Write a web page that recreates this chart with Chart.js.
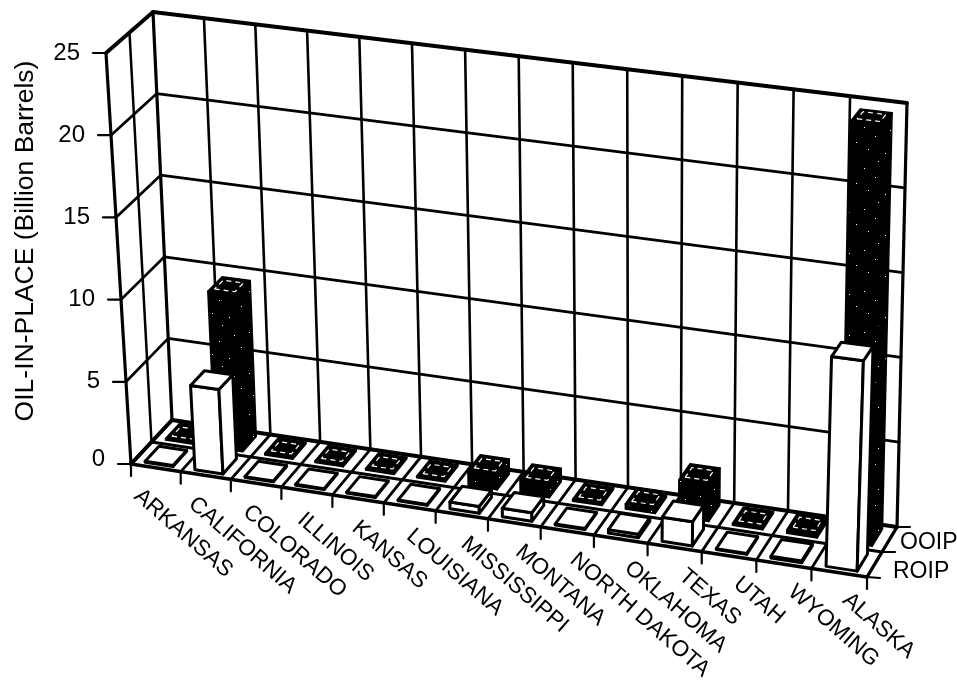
<!DOCTYPE html>
<html><head><meta charset="utf-8">
<style>html,body{margin:0;padding:0;background:#fff}canvas{display:block}</style>
<script src="https://cdn.jsdelivr.net/npm/chart.js@4"></script>
</head><body><canvas id="c" width="957" height="697"></canvas>
<script>
const categories=["ARKANSAS","CALIFORNIA","COLORADO","ILLINOIS","KANSAS","LOUISIANA","MISSISSIPPI","MONTANA","NORTH DAKOTA","OKLAHOMA","TEXAS","UTAH","WYOMING","ALASKA"];
const roip=[0.05,5.1,0.05,0.05,0.05,0.05,0.4,0.5,0.05,0.2,1.4,0.05,0.1,12];
const ooip=[0.1,9.5,0.1,0.1,0.1,0.1,0.9,0.8,0.1,0.3,2.2,0.1,0.2,24.5];
const seriesNames=["ROIP","OOIP"];
const yTitle="OIL-IN-PLACE (Billion Barrels)";
const FONT='"Liberation Sans", Arial, sans-serif';

const C={fl0:[131,464],fr0:[867,577],bl0:[172,420],br0:[897,527],
         fl1:[106,53],fr1:[881,137],bl1:[153,12],br1:[907,103]};
const warp=u=>{const r=1.03;return (u/(r-2*(r-1)*u))*(r-2*(r-1));};
const lerp=(a,b,t)=>[a[0]+(b[0]-a[0])*t,a[1]+(b[1]-a[1])*t];
function P(u,d,v){
  u=warp(u);
  const f0=lerp(C.fl0,C.fr0,u),b0=lerp(C.bl0,C.br0,u),f1=lerp(C.fl1,C.fr1,u),b1=lerp(C.bl1,C.br1,u);
  return lerp(lerp(f0,b0,d),lerp(f1,b1,d),v);
}
function line(ctx,a,b,w){ctx.lineWidth=w;ctx.beginPath();ctx.moveTo(a[0],a[1]);ctx.lineTo(b[0],b[1]);ctx.stroke();}
function poly(ctx,pts,fill,w){ctx.beginPath();pts.forEach((p,i)=>i?ctx.lineTo(p[0],p[1]):ctx.moveTo(p[0],p[1]));ctx.closePath();ctx.fillStyle=fill;ctx.fill();ctx.lineWidth=w;ctx.strokeStyle='#000';ctx.stroke();}
function speckle(ctx){
  const c=document.createElement('canvas');c.width=c.height=41;const x=c.getContext('2d');
  x.fillStyle='#000';x.fillRect(0,0,41,41);x.fillStyle='#fff';
  [[3,4],[29,7],[14,13],[36,19],[7,26],[24,30],[17,38]].forEach(p=>x.fillRect(p[0],p[1],1,1));
  return ctx.createPattern(c,'repeat');
}
const scene={id:'scene',
 beforeDatasetsDraw(chart){
  const ctx=chart.ctx,yS=chart.scales.y,xS=chart.scales.x,a=chart.chartArea;
  const V=val=>(a.bottom-yS.getPixelForValue(val))/a.height;
  const n=categories.length;
  ctx.save();ctx.strokeStyle='#000';ctx.lineCap='round';ctx.lineJoin='round';
  yS.ticks.forEach(t=>{const v=V(t.value);
    const w=t.value===0||t.value===25?3.8:2.7;
    line(ctx,P(0,0,v),P(0,1,v),w);
    line(ctx,P(0,1,v),P(1,1,v),w);
    line(ctx,P(0,0,v),[P(0,0,v)[0]-13,P(0,0,v)[1]],2.2);
  });
  for(let i=0;i<=n;i++){const u=(xS.getPixelForValue(i)-xS.width/n/2-a.left)/a.width;
    line(ctx,P(u,0,0),P(u,1,0),i===0||i===n?3.4:2.8);
    line(ctx,P(u,1,0),P(u,1,1),i===0||i===n?3.2:2.6);
    const q=P(u,0,0);line(ctx,q,[q[0],q[1]+12],2.2);
  }
  line(ctx,P(0,.5,0),P(1,.5,0),2.8);
  line(ctx,P(0,.5,0),P(0,.5,1),2.5);
  line(ctx,P(0,0,0),P(0,0,1),3.2);
  line(ctx,P(0,0,0),P(1,0,0),3.6);
  [0,.5,1].forEach(d=>{const q=P(1,d,0);line(ctx,q,[q[0]+13,q[1]+(d===0?1:0)],2.2);});
  ctx.fillStyle='#000';ctx.font='24px '+FONT;ctx.textBaseline='middle';ctx.textAlign='right';
  yS.ticks.forEach(t=>{const q=P(0,0,V(t.value));ctx.fillText(String(t.value),q[0]-26,q[1]-(t.value===0?5:0));});
  ctx.textAlign='left';ctx.font='23px '+FONT;
  ctx.fillText(seriesNames[1],900,543);ctx.fillText(seriesNames[0],893,572);
  ctx.font='22.5px '+FONT;
  categories.forEach((c,i)=>{ctx.save();ctx.translate(137+54.5*i,493+8*i);ctx.rotate(41*Math.PI/180);ctx.fillText(c,0,0);ctx.restore();});
  ctx.save();ctx.translate(26,241);ctx.rotate(-Math.PI/2);ctx.textAlign='center';ctx.font='26.5px '+FONT;ctx.fillText(yTitle,0,0);ctx.restore();
  ctx.restore();
 },
 afterDatasetsDraw(chart){
  const ctx=chart.ctx,a=chart.chartArea,pat=speckle(ctx);
  ctx.save();ctx.lineJoin='round';
  [1,0].forEach(ds=>{
    const dark=ds===1,dc=ds===1?.75:.25,dh=.17;
    chart.getDatasetMeta(ds).data.forEach(el=>{
      const u0=(el.x-el.width/2-a.left)/a.width,u1=(el.x+el.width/2-a.left)/a.width;
      const vb=(a.bottom-el.base)/a.height,vt=(a.bottom-el.y)/a.height;
      const d0=dc-dh,d1=dc+dh;
      const fill=dark?pat:'#fff',w=dark?1.5:3;
      poly(ctx,[P(u0,d0,vb),P(u1,d0,vb),P(u1,d0,vt),P(u0,d0,vt)],fill,w);
      poly(ctx,[P(u1,d0,vb),P(u1,d1,vb),P(u1,d1,vt),P(u1,d0,vt)],fill,w);
      poly(ctx,[P(u0,d0,vt),P(u1,d0,vt),P(u1,d1,vt),P(u0,d1,vt)],dark?'#000':'#fff',w);
      if(dark){
        const m=.14,i0=u0+(u1-u0)*m,i1=u1-(u1-u0)*m,j0=d0+(d1-d0)*.2,j1=d1-(d1-d0)*.2;
        ctx.save();ctx.setLineDash([5,4]);ctx.strokeStyle='#fff';ctx.lineWidth=1.2;
        ctx.beginPath();[[i0,j0],[i1,j0],[i1,j1],[i0,j1]].forEach((p,k)=>{const q=P(p[0],p[1],vt);k?ctx.lineTo(q[0],q[1]):ctx.moveTo(q[0],q[1]);});ctx.closePath();ctx.stroke();ctx.restore();
      }
    });
  });
  ctx.restore();
 }
};
new Chart(document.getElementById('c').getContext('2d'),{
 type:'bar',
 data:{labels:categories,datasets:[
  {label:seriesNames[0],data:roip,backgroundColor:'rgba(0,0,0,0)',grouped:false,barPercentage:.56,categoryPercentage:1},
  {label:seriesNames[1],data:ooip,backgroundColor:'rgba(0,0,0,0)',grouped:false,barPercentage:.56,categoryPercentage:1}]},
 options:{responsive:false,animation:false,layout:{padding:0},
  plugins:{legend:{display:false},tooltip:{enabled:false},title:{display:false}},
  scales:{x:{display:false},y:{display:false,min:0,max:25,ticks:{stepSize:5}}}},
 plugins:[scene]
});
</script></body></html>
